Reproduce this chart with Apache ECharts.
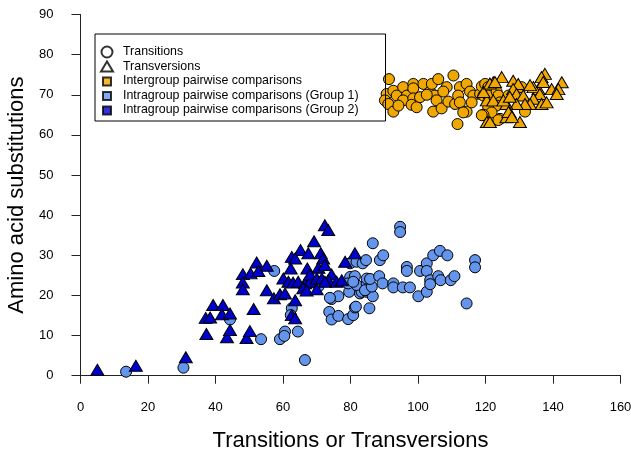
<!DOCTYPE html>
<html>
<head>
<meta charset="utf-8">
<script src="https://cdn.jsdelivr.net/npm/echarts@6/dist/echarts.min.js"></script>
<style>
  html, body { margin: 0; padding: 0; background: #fff; }
  #chart { width: 631px; height: 450px; }
</style>
</head>
<body>
<div id="chart"></div>
<script>
// values: [transitions or transversions, amino acid substitutions]
var interTransitions = [
  [91.4,73.9],[90.7,70.2],[90.2,68.6],[91.2,67.7],[92.7,65.8],[92.7,71],[93.7,69.8],[95.6,71.9],[96.7,69.8],[95.6,68.6],
  [98.6,72.7],[98.6,71.6],[98.6,69.1],[98.1,67.5],[99.6,66.9],[100.6,69.4],[101.6,72.7],[103.6,70.8],[104.1,72.7],[106,73.9],
  [105,69.8],[105.5,68.6],[104.5,65.8],[107,66.6],[108.5,71.9],[110.5,74.8],[109,68.3],[111,67.7],[112.4,71.9],[111.9,69.8],
  [112.4,68.1],[111.7,62.7],[114.4,72.7],[114.4,65.8],[113.4,65.6],[115.4,70.8],[116.4,69.8],[115.9,68.1],[118.4,70.2],[118.9,72.1],
  [119.9,72.7],[119.4,69.8],[120.8,71.9],[120.8,69.8],[123.3,70.8],[123.8,69.8],[126.8,69.8],[124.3,68.1],[123.3,67.3],[120.8,66.9],
  [121.8,65.6],[124.3,64],[119.4,65],[118.9,64.9],[130.7,71.9],[131.7,65.8],[123.8,63.7],[102.6,70],[107.5,70.8],[94.2,67.3]
];
var interTransversions = [
  [124.8,74.4],[128.2,73.5],[122.3,73.1],[129.7,72.7],[137.6,75.2],[136.6,74.4],[142.6,73.1],[139.6,71.4],[141.6,71.4],[141.1,70.2],
  [135.7,71.4],[134.2,71.9],[136.1,70.2],[128.2,71.4],[129.2,70.2],[131.2,69.8],[134.2,69],[136.6,67.7],[138.1,68.1],[133.2,67.7],
  [131.7,67.7],[129.2,67.7],[126.2,67.7],[127.2,65.6],[126.2,64.4],[120.4,63.2],[121.3,63.2],[130.2,63.2],[133.2,72.4],[120.4,68.6],
  [119.4,70.7],[122.3,68.6],[125.3,68.6],[126.8,65.7],[127.8,64.5],[121.3,72.8],[122.8,73.2],[137.1,73.2],[127.2,69.5]
];
var group1Transitions = [
  [13.5,1],[30.5,2],[66.5,3.9],[44.3,14],[53.5,9.1],[59.1,9.1],[60.6,11],[60.4,9.9],[64.4,11],[62.6,16.8],[62.3,15.1],
  [57.4,26.1],[67.5,23],[70.5,22.2],[74.4,19.1],[76.4,19.8],[73.9,19.4],
  [73.7,15.9],[74.4,14],[76.4,14.9],[79.3,14.1],[80.8,15.1],[81.3,17],[85.6,16.8],[81.6,17.2],
  [79.6,20.9],[82.8,20.5],[83.3,20.9],[84.8,20.9],[86.6,19.8],
  [79.9,24.6],[81.3,24.8],[79.3,23],[81.8,22.6],[80.8,23.4],[84.8,23],[84.3,21.3],[86.3,22.2],[84.8,24.2],[85.8,24.1],[88.5,24.8],
  [79.9,28],[81.8,28.4],[83.6,28],[84.6,28.8],[86.6,33],[88.7,28.8],[89.7,30],
  [94.7,37.1],[94.7,35.8],
  [89.5,23],[92.7,23],[92.7,22],[95.5,22],[97.6,22],
  [96.7,27.1],[96.7,26.1],
  [100.6,26.1],[102.6,28],[102.6,26.1],[100.1,19.8],[102.6,20.9],
  [103.6,23.8],[103.6,22.8],[106,24.8],[106.7,23.8],[104.5,30],[106.5,31.1],[108.7,30],[109.7,23.8],[110.8,24.8],
  [114.4,18],[116.9,28.8],[116.9,27]
];
var group2Transversions = [
  [5,1.5],[16.4,2.5],[31.2,4.6],
  [37.1,14.4],[38.4,14.5],[39.3,17.6],[42.2,17.6],[41.9,15.3],[44.3,15.5],
  [37.3,10.4],[43.4,9.6],[44.3,11.4],[49.2,9.4],[50.2,11.1],[51.3,16.6],
  [48.1,25.3],[50.4,25.5],[48.1,23.2],[48.1,21.5],[52.2,28.2],[55.2,27.4],[52.7,26.1],
  [55.2,21.3],[57.3,19.3],[59.1,20.3],[60.6,20.5],[60.1,24.2],
  [72.4,37.5],[73.4,36.3],[69.2,33.5],[65.2,31.3],[67.5,30.5],[62.6,29.6],[63.6,29.2],
  [71.2,30.5],[71.9,29.2],[81.3,30.5],[78.4,28.4],
  [62.3,26.7],[67.2,26.7],[70.5,26.9],[72.4,27.6],[74.4,25.2],
  [61.6,23.4],[63,23.2],[64.5,23.4],[66.5,23],[68,23.4],[68,25.2],[70,24.2],[71.5,24.2],[73.4,23.8],[75.9,23.4],[77.4,23.8],[72.4,23.4],
  [66,21.8],[67,21.2],[70,21.5],
  [63.6,18.8],[62.6,15.1],[63.6,14.3]
];
var legendNames = [
  'Transitions',
  'Transversions',
  'Intergroup pairwise comparisons',
  'Intragroup pairwise comparisons (Group 1)',
  'Intragroup pairwise comparisons (Group 2)'
];

var orange = '#F0A800';
var lightBlue = '#6495ED';
var darkBlue = '#0000CD';
var font = 'Liberation Sans, Arial, Helvetica, sans-serif';

// legend icons drawn in a 22x11 box; the two leading moves pin the box so nothing stretches
var iconCircle = 'path://M0,0M22,11M16.5,5.5A5.5,5.5,0,1,1,5.5,5.5A5.5,5.5,0,1,1,16.5,5.5Z';
var iconTriangle = 'path://M0,0M22,11M5,10.5L11,0.5L17,10.5Z';
var iconSquare = 'path://M0,0M22,11M7,2L15,2L15,10L7,10Z';

function pts(name, data, symbol, color) {
  return {
    name: name,
    type: 'scatter',
    data: data,
    symbol: symbol,
    symbolSize: symbol === 'circle' ? 11 : [13, 11],
    itemStyle: { color: color, borderColor: '#000', borderWidth: 1, opacity: 1 },
    emphasis: { disabled: true },
    silent: true
  };
}
function legendOnly(name, color) {
  return {
    name: name,
    type: 'scatter',
    data: [],
    itemStyle: { color: color, borderColor: '#000', borderWidth: 1 }
  };
}

var chart = echarts.init(document.getElementById('chart'));
chart.setOption({
  animation: false,
  grid: { left: 80.5, right: 10.5, top: 14.5, bottom: 74.3, outerBoundsMode: 'none', containLabel: false },
  legend: {
    data: [
      { name: legendNames[0], icon: iconCircle },
      { name: legendNames[1], icon: iconTriangle },
      { name: legendNames[2], icon: iconSquare },
      { name: legendNames[3], icon: iconSquare },
      { name: legendNames[4], icon: iconSquare }
    ],
    orient: 'vertical',
    left: 95,
    top: 34,
    padding: [11, 27, 4, 0],
    itemWidth: 22,
    itemHeight: 11,
    itemGap: 0.5,
    borderColor: '#000',
    borderWidth: 1,
    selectedMode: false,
    textStyle: { fontFamily: font, fontSize: 12.4, color: '#000', lineHeight: 14 }
  },
  xAxis: {
    type: 'value',
    min: 0, max: 160, interval: 20,
    name: 'Transitions or Transversions',
    nameLocation: 'middle',
    nameGap: 54,
    nameTextStyle: { fontFamily: font, fontSize: 22, color: '#000' },
    splitLine: { show: false },
    axisLine: { show: true, onZero: false, lineStyle: { color: '#222', width: 1 } },
    axisTick: { show: true, length: 8, lineStyle: { color: '#222' } },
    axisLabel: { fontFamily: font, fontSize: 13, color: '#000', margin: 25 }
  },
  yAxis: {
    type: 'value',
    min: 0, max: 90, interval: 10,
    name: 'Amino acid substitutions',
    nameLocation: 'middle',
    nameGap: 44,
    nameTextStyle: { fontFamily: font, fontSize: 22, color: '#000' },
    splitLine: { show: false },
    axisLine: { show: true, onZero: false, lineStyle: { color: '#222', width: 1 } },
    axisTick: { show: true, length: 9, lineStyle: { color: '#222' } },
    axisLabel: { fontFamily: font, fontSize: 13, color: '#000', margin: 27 }
  },
  series: [
    legendOnly(legendNames[0], '#fff'),
    legendOnly(legendNames[1], '#fff'),
    legendOnly(legendNames[2], orange),
    legendOnly(legendNames[3], lightBlue),
    legendOnly(legendNames[4], darkBlue),
    pts('Intergroup transitions', interTransitions, 'circle', orange),
    pts('Intergroup transversions', interTransversions, 'triangle', orange),
    pts('Group 1 transitions', group1Transitions, 'circle', lightBlue),
    pts('Group 2 transversions', group2Transversions, 'triangle', darkBlue)
  ]
});
</script>
</body>
</html>
